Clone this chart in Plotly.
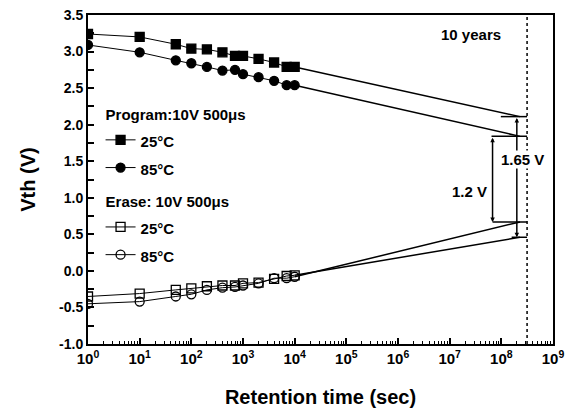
import numpy as np
import plotly.graph_objects as go

# ---------------- data ----------------
time_s = [1, 10, 50, 100, 200, 400, 700, 1000, 2000, 4000, 7000, 10000]
prog_25 = [3.24, 3.20, 3.10, 3.04, 3.03, 2.99, 2.94, 2.94, 2.90, 2.85, 2.79, 2.79]
prog_85 = [3.09, 2.99, 2.88, 2.84, 2.79, 2.74, 2.75, 2.69, 2.65, 2.60, 2.54, 2.54]
erase_25 = [-0.35, -0.31, -0.26, -0.24, -0.21, -0.20, -0.20, -0.17, -0.16, -0.11, -0.07, -0.06]
erase_85 = [-0.45, -0.42, -0.35, -0.32, -0.26, -0.23, -0.22, -0.20, -0.17, -0.10, -0.10, -0.08]

ten_years_s = 3.15e8
extrap_time = 2.3e8
extrap_prog_25 = 2.11
extrap_prog_85 = 1.84
extrap_erase_25 = 0.46
extrap_erase_85 = 0.67

x_tickvals = [10 ** k for k in range(10)]
x_ticktext = ["10<sup>%d</sup>" % k for k in range(10)]
y_tickvals = [-1.0, -0.5, 0.0, 0.5, 1.0, 1.5, 2.0, 2.5, 3.0, 3.5]
y_ticktext = ["%.1f" % v for v in y_tickvals]

FONT = "Liberation Sans"
BLACK = "black"

fig = go.Figure()

series = [
    (prog_25, extrap_prog_25, "square", "prog", "Program:10V 500μs", "25°C"),
    (prog_85, extrap_prog_85, "circle", "prog", "Program:10V 500μs", "85°C"),
    (erase_25, extrap_erase_25, "square-open", "erase", "Erase: 10V 500μs", "25°C"),
    (erase_85, extrap_erase_85, "circle-open", "erase", "Erase: 10V 500μs", "85°C"),
]

def span(t, size=15):
    return "<span style='font-size:%dpx'>%s</span>" % (size, t)

for vals, ext, sym, grp, gtitle, name in series:
    fig.add_trace(go.Scatter(
        x=time_s, y=vals, mode="lines+markers", name=span(name),
        legendgroup=grp,
        legendgrouptitle=dict(text=span(gtitle), font=dict(size=19, family=FONT, weight="bold", color=BLACK)),
        line=dict(color=BLACK, width=1),
        marker=dict(symbol=sym, size=9, color=BLACK, line=dict(color=BLACK, width=1.3)),
    ))
    fig.add_trace(go.Scatter(
        x=[time_s[-1], extrap_time], y=[vals[-1], ext], mode="lines",
        showlegend=False, line=dict(color=BLACK, width=1.5), hoverinfo="skip",
    ))

# 10-year dotted line
fig.add_shape(type="line", xref="x", yref="paper", x0=ten_years_s, x1=ten_years_s, y0=0, y1=1,
              line=dict(color=BLACK, width=1.5, dash="dot"))

# horizontal end bars
bars = [(extrap_prog_25, 7.99), (extrap_prog_85, 7.81), (extrap_erase_85, 7.83), (extrap_erase_25, 8.2)]
for yv, xs in bars:
    fig.add_shape(type="line", xref="x", yref="y", x0=10 ** xs, x1=ten_years_s, y0=yv, y1=yv,
                  line=dict(color=BLACK, width=1.5))

# arrows
arrow_defs = [(8.3, extrap_prog_25, extrap_erase_25), (7.83, extrap_prog_85, extrap_erase_85)]
for xa, ytop, ybot in arrow_defs:
    fig.add_annotation(x=xa, y=ybot, ax=xa, ay=ytop, xref="x", yref="y", axref="x", ayref="y",
                       text="", showarrow=True, arrowhead=2, arrowside="end+start",
                       arrowsize=0.6, arrowwidth=1.5, arrowcolor=BLACK)

bold = dict(family=FONT, size=15, color=BLACK, weight="bold")
fig.add_annotation(x=8.41, y=1.53, xref="x", yref="y", text="1.65 V", showarrow=False,
                   font=bold, bgcolor="white", borderpad=0)
fig.add_annotation(x=7.39, y=1.08, xref="x", yref="y", text="1.2 V", showarrow=False,
                   font=bold)
fig.add_annotation(x=7.41, y=3.23, xref="x", yref="y", text="10 years", showarrow=False,
                   font=bold)

axis_common = dict(
    showline=True, linecolor=BLACK, linewidth=2, mirror=True,
    ticks="inside", ticklen=6, tickwidth=1.5, tickcolor=BLACK,
    showgrid=False, zeroline=False, automargin=False,
)

fig.update_xaxes(
    type="log", range=[0, 9], tickvals=x_tickvals, ticktext=x_ticktext,
    tickfont=dict(family=FONT, size=15, color=BLACK, weight="bold"),
    minor=dict(ticks="inside", ticklen=3, tickwidth=1, tickcolor=BLACK, dtick="D1", showgrid=False),
    title=dict(text="Retention time (sec)", font=dict(family=FONT, size=20, color=BLACK, weight="bold"), standoff=24),
    **axis_common,
)
fig.update_yaxes(
    range=[-1, 3.5], tickvals=y_tickvals, ticktext=y_ticktext,
    tickfont=dict(family=FONT, size=14, color=BLACK, weight="bold"),
    minor=dict(ticks="inside", ticklen=6, tickwidth=1.5, tickcolor=BLACK, dtick=0.25, showgrid=False),
    title=dict(text="Vth (V)", font=dict(family=FONT, size=20, color=BLACK, weight="bold"), standoff=18),
    **axis_common,
)

fig.update_layout(
    width=569, height=415,
    margin=dict(l=88, r=16, t=15, b=71),
    paper_bgcolor="white", plot_bgcolor="white",
    showlegend=True,
    legend=dict(x=0.027, y=0.762, xanchor="left", yanchor="top", bgcolor="rgba(0,0,0,0)",
                font=dict(family=FONT, size=19, color=BLACK, weight="bold"),
                traceorder="grouped", tracegroupgap=4),
)

fig.write_html("out.html", config={"displayModeBar": False},
               post_script="document.body.style.margin='0';")
